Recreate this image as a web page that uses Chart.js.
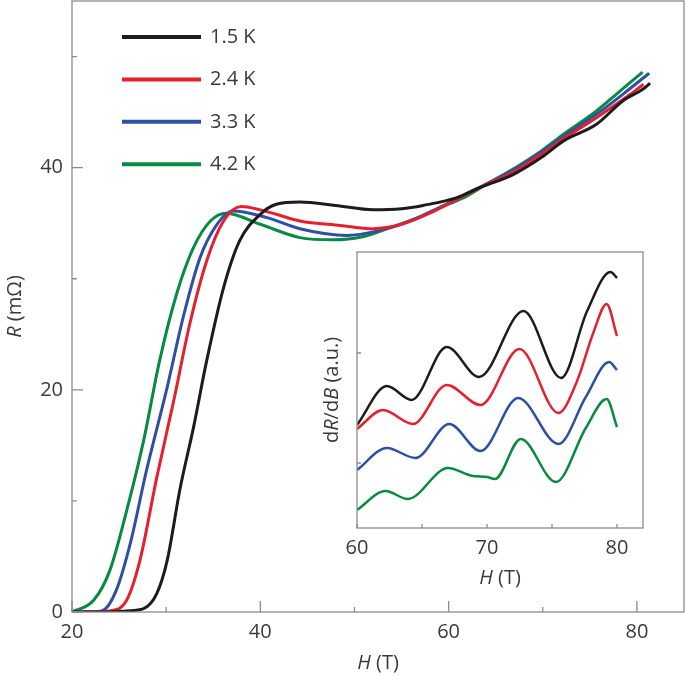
<!DOCTYPE html>
<html>
<head>
<meta charset="utf-8">
<script src="https://cdn.jsdelivr.net/npm/chart.js@4.4.0/dist/chart.umd.min.js"></script>
<style>
  body { margin: 0; background: #fff; }
  #wrap { position: relative; width: 685px; height: 676px; }
  #main { position: absolute; left: 0; top: 0; }
  #inset { position: absolute; left: 290px; top: 240px; }
</style>
</head>
<body>
<div id="wrap">
  <canvas id="main" width="685" height="676"></canvas>
  <canvas id="inset" width="395" height="360"></canvas>
</div>
<script>
// main panel: R (mOhm) vs H (T)
var labels = ['1.5 K', '2.4 K', '3.3 K', '4.2 K'];
var colors = ['#1c1c1c', '#e5202e', '#2f4fa5', '#078a42'];

var h15 = [20, 24, 25.8, 27.6, 29.0, 30.1, 31.5, 32.9, 34.3, 36.1, 37.8, 40.0, 41.7, 44.2, 48, 52, 55, 57.3, 60.9, 63, 66.9, 70, 72.2, 75.7, 78.5, 80.7, 81.4];
var r15 = [0, 0, 0.1, 0.3, 1.65, 4.6, 11.2, 16.6, 22.6, 29.2, 33.4, 35.8, 36.7, 36.9, 36.6, 36.2, 36.3, 36.6, 37.3, 38.1, 39.4, 41.0, 42.4, 43.9, 46.0, 47.1, 47.6];

var h24 = [20, 22, 24, 25.8, 27.2, 29.0, 30.8, 32.5, 34.3, 36.1, 38.0, 40, 41.7, 44.2, 48.5, 52.0, 55, 58, 61, 64, 66.9, 70, 72.2, 75.7, 79.3, 80.7];
var r24 = [0, 0, 0.1, 1.05, 4.6, 12.1, 19.0, 25.9, 31.6, 35.2, 36.5, 36.2, 35.8, 35.2, 34.8, 34.5, 34.9, 35.9, 37.2, 38.5, 39.6, 41.3, 42.6, 44.5, 46.6, 47.5];

var h33 = [20, 22, 23.3, 24.7, 26.2, 27.9, 30.1, 31.8, 33.6, 35.4, 37.1, 40.7, 44.2, 49.2, 53.8, 57, 60, 63, 66.9, 70, 72.2, 75.7, 78.5, 81.3];
var r33 = [0, 0, 0.15, 1.95, 6.2, 12.7, 20.2, 26.5, 31.9, 34.9, 36.1, 35.5, 34.5, 33.9, 34.6, 35.6, 36.8, 38.1, 39.8, 41.5, 42.8, 44.8, 46.6, 48.5];

var h42 = [20, 22.3, 24.0, 25.8, 27.6, 29.3, 31.1, 32.9, 34.7, 36.4, 40.0, 44.2, 47.7, 51, 53.8, 56.5, 59.1, 61.6, 64.0, 66.9, 70, 72.2, 75.7, 77.8, 80.6];
var r42 = [0, 1.05, 3.7, 9.1, 15.4, 22.6, 28.6, 32.8, 35.2, 35.9, 34.9, 33.7, 33.5, 33.8, 34.6, 35.4, 36.4, 37.3, 38.5, 39.9, 41.6, 43.0, 45.1, 46.6, 48.6];

// inset: dR/dB (arbitrary units, curves offset) vs H (T)
var ih15 = [60, 62.3, 64.2, 66.9, 69.4, 72.8, 75.7, 77.7, 79.5, 80];
var iv15 = [10.3, 14.2, 12.8, 18.1, 15.1, 21.7, 15.0, 21.7, 25.6, 25.0];
var ih24 = [60, 62.0, 64.3, 66.9, 69.5, 72.5, 75.5, 76.9, 78.2, 79.2, 80];
var iv24 = [9.9, 11.8, 10.4, 14.3, 12.3, 17.9, 11.5, 14.6, 19.6, 22.4, 19.2];
var ih33 = [60, 62.3, 64.5, 67.1, 69.5, 72.4, 75.5, 77.6, 79.4, 80];
var iv33 = [5.8, 8.0, 7.0, 10.4, 7.7, 13.0, 8.4, 13.1, 16.6, 15.8];
var ih42 = [60, 62.2, 63.9, 67.0, 68.9, 70.0, 70.6, 72.6, 75.3, 77.6, 79.2, 80];
var iv42 = [1.8, 3.7, 2.9, 6.0, 5.2, 5.1, 4.9, 8.9, 4.6, 10.0, 12.9, 10.1];

var mainTicksX = [20, 30, 40, 50, 60, 70, 80];
var mainTicksY = [0, 10, 20, 30, 40, 50];
var insetTicksX = [60, 65, 70, 75, 80];
var insetTicksY = [6.5, 17.5];

var FAMILY = "'Open Sans', 'Liberation Sans', sans-serif";
var TEXT = '#3a3a3a';
var FRAME = '#8c8c8c';

function pts(hs, vs) {
    return hs.map(function (h, i) { return { x: h, y: vs[i] }; });
}

function makeSets(list, width) {
    return list.map(function (d, i) {
        return {
            label: labels[i],
            data: pts(d[0], d[1]),
            borderColor: colors[i],
            borderWidth: width,
            pointRadius: 0,
            cubicInterpolationMode: 'monotone',
            fill: false
        };
    });
}

function drawRich(ctx, segs, x, y, rotate) {
    ctx.save();
    ctx.translate(x, y);
    if (rotate) ctx.rotate(-Math.PI / 2);
    var total = 0;
    segs.forEach(function (s) {
        ctx.font = (s[1] ? 'italic ' : '') + '20px ' + FAMILY;
        total += ctx.measureText(s[0]).width;
    });
    var cx = -total / 2;
    ctx.textBaseline = 'middle';
    ctx.textAlign = 'left';
    ctx.fillStyle = TEXT;
    segs.forEach(function (s) {
        ctx.font = (s[1] ? 'italic ' : '') + '20px ' + FAMILY;
        ctx.fillText(s[0], cx, 0);
        cx += ctx.measureText(s[0]).width;
    });
    ctx.restore();
}

// frame, inward ticks, axis titles (and legend for the main panel)
var decor = {
    id: 'decor',
    afterDraw: function (chart, args, o) {
        var ctx = chart.ctx, a = chart.chartArea;
        var xs = chart.scales.x, ys = chart.scales.y;
        ctx.save();
        ctx.strokeStyle = FRAME;
        ctx.lineWidth = 1.3;
        ctx.strokeRect(a.left, a.top, a.right - a.left, a.bottom - a.top);
        ctx.beginPath();
        xs.ticks.forEach(function (t) {
            var px = xs.getPixelForValue(t.value);
            var len = t.label ? o.major : o.minor;
            ctx.moveTo(px, a.bottom);
            ctx.lineTo(px, a.bottom - len);
        });
        ys.ticks.forEach(function (t) {
            var py = ys.getPixelForValue(t.value);
            var len = t.label ? o.major : o.minor;
            ctx.moveTo(a.left, py);
            ctx.lineTo(a.left + len, py);
        });
        ctx.stroke();
        ctx.restore();

        drawRich(ctx, o.xTitle, (a.left + a.right) / 2, a.bottom + o.xTitleOff, false);
        drawRich(ctx, o.yTitle, a.left - o.yTitleOff, (a.top + a.bottom) / 2, true);

        if (o.legend) {
            ctx.save();
            chart.data.datasets.forEach(function (ds, i) {
                var y = a.top + 36 + 42.4 * i;
                ctx.strokeStyle = ds.borderColor;
                ctx.lineWidth = 4;
                ctx.beginPath();
                ctx.moveTo(a.left + 50, y);
                ctx.lineTo(a.left + 129, y);
                ctx.stroke();
                ctx.fillStyle = TEXT;
                ctx.font = '20px ' + FAMILY;
                ctx.textBaseline = 'middle';
                ctx.fillText(ds.label, a.left + 138, y);
            });
            ctx.restore();
        }
    }
};

function axis(min, max, ticks, showEvery, fitSize, isX, pad) {
    return {
        type: 'linear',
        min: min,
        max: max,
        grid: { display: false, drawTicks: false },
        border: { display: false },
        afterBuildTicks: function (s) {
            s.ticks = ticks.map(function (v) { return { value: v }; });
        },
        afterFit: function (s) {
            if (isX) s.height = fitSize; else s.width = fitSize;
            // no extra room for half labels, the layout padding sets the frame
            s.paddingTop = 0;
            s.paddingBottom = 0;
            s.paddingLeft = 0;
            s.paddingRight = 0;
        },
        ticks: {
            autoSkip: false,
            maxRotation: 0,
            padding: pad,
            color: TEXT,
            font: { family: FAMILY, size: 20 },
            callback: function (v) {
                return showEvery && v % showEvery === 0 ? String(v) : '';
            }
        }
    };
}

Chart.defaults.animation = false;

new Chart(document.getElementById('main'), {
    type: 'line',
    data: {
        datasets: makeSets([[h15, r15], [h24, r24], [h33, r33], [h42, r42]], 3)
    },
    options: {
        responsive: false,
        devicePixelRatio: 1,
        layout: { padding: { top: 1, right: 1, left: 0, bottom: 0 } },
        plugins: {
            legend: { display: false },
            tooltip: { enabled: false },
            decor: {
                major: 11, minor: 5,
                xTitle: [['H', true], [' (T)', false]], xTitleOff: 51,
                yTitle: [['R', true], [' (m\u03A9)', false]], yTitleOff: 57,
                legend: true
            }
        },
        scales: {
            x: axis(20, 85, mainTicksX, 20, 64, true, 8),
            y: axis(0, 55, mainTicksY, 20, 72, false, 9)
        }
    },
    plugins: [decor]
});

new Chart(document.getElementById('inset'), {
    type: 'line',
    data: {
        datasets: makeSets([[ih15, iv15], [ih24, iv24], [ih33, iv33], [ih42, iv42]], 2.5)
    },
    options: {
        responsive: false,
        devicePixelRatio: 1,
        layout: { padding: { top: 12, right: 42, left: 0, bottom: 0 } },
        plugins: {
            legend: { display: false },
            tooltip: { enabled: false },
            decor: {
                major: 4, minor: 4,
                xTitle: [['H', true], [' (T)', false]], xTitleOff: 50,
                yTitle: [['d', false], ['R', true], ['/d', false], ['B', true], [' (a.u.)', false]], yTitleOff: 25,
                legend: false
            }
        },
        scales: {
            x: axis(60, 82, insetTicksX, 10, 72, true, 8),
            y: axis(0, 27.6, insetTicksY, 0, 67, false, 8)
        }
    },
    plugins: [decor]
});
</script>
</body>
</html>
